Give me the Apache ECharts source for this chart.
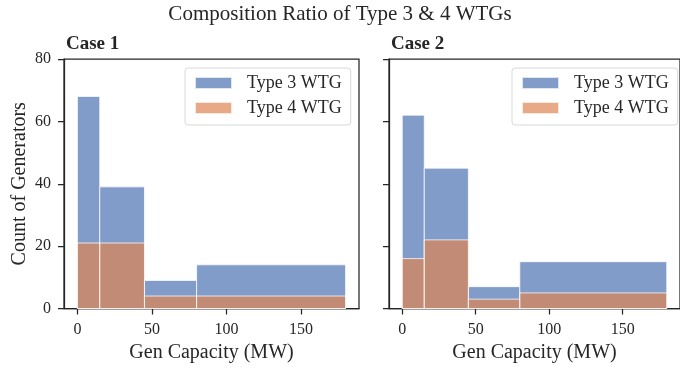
<!DOCTYPE html>
<html>
<head>
<meta charset="utf-8">
<script src="https://cdn.jsdelivr.net/npm/echarts@6/dist/echarts.min.js"></script>
<style>
html,body{margin:0;padding:0;background:#fff;}
#c{width:680px;height:369px;}
</style>
</head>
<body>
<div id="c"></div>
<script>
// ---- data ----
var binEdges = [0, 15, 45, 80, 180];
var case1Type3 = [68, 39, 9, 14];
var case1Type4 = [21, 21, 4, 4];
var case2Type3 = [62, 45, 7, 15];
var case2Type4 = [16, 22, 3, 5];
var xTicks = [0, 50, 100, 150];
var seriesNames = ['Type 3 WTG', 'Type 4 WTG'];
var panelTitles = ['Case 1', 'Case 2'];

var FONT = "'Liberation Serif','Times New Roman',serif";
var INK = '#262626';
var C3 = 'rgba(76,114,176,0.7)';
var C4 = 'rgba(221,132,82,0.7)';

function binData(counts) {
  var out = [];
  for (var i = 0; i < counts.length; i++) out.push([binEdges[i], binEdges[i + 1], counts[i]]);
  return out;
}
function renderBar(params, api) {
  var p0 = api.coord([api.value(0), 0]);
  var p1 = api.coord([api.value(1), api.value(2)]);
  return {
    type: 'rect',
    shape: { x: p0[0], y: p1[1], width: p1[0] - p0[0], height: p0[1] - p1[1] },
    style: { fill: api.visual('color'), stroke: 'rgba(255,255,255,0.75)', lineWidth: 1 }
  };
}
function histSeries(name, counts, idx, color) {
  return {
    type: 'custom', name: name, xAxisIndex: idx, yAxisIndex: idx,
    renderItem: renderBar, data: binData(counts),
    encode: { x: [0, 1], y: 2 },
    itemStyle: { color: color, borderColor: 'rgba(255,255,255,0.75)', borderWidth: 1 },
    silent: true
  };
}
function xAxisCfg(idx) {
  return {
    type: 'value', gridIndex: idx, min: -9, max: 189,
    name: 'Gen Capacity (MW)', nameLocation: 'middle', nameGap: 33,
    nameTextStyle: { fontFamily: FONT, fontSize: 20, color: INK },
    axisLine: { show: true, onZero: false, lineStyle: { color: INK, width: 1.25 } },
    axisTick: { show: true, inside: false, length: 6, customValues: xTicks, lineStyle: { color: INK, width: 1.25 } },
    axisLabel: { fontFamily: FONT, fontSize: 16, color: INK, margin: 13, customValues: xTicks },
    splitLine: { show: false }
  };
}
function yAxisCfg(idx, showLabels) {
  var cfg = {
    type: 'value', gridIndex: idx, min: 0, max: 80, interval: 20,
    axisLine: { show: true, onZero: false, lineStyle: { color: INK, width: 1.25 } },
    axisTick: { show: true, inside: false, length: 6, lineStyle: { color: INK, width: 1.25 } },
    axisLabel: { show: showLabels, fontFamily: FONT, fontSize: 16, color: INK, margin: 13 },
    splitLine: { show: false }
  };
  if (showLabels) {
    cfg.name = 'Count of Generators';
    cfg.nameLocation = 'middle';
    cfg.nameGap = 34;
    cfg.nameTextStyle = { fontFamily: FONT, fontSize: 20, color: INK };
  }
  return cfg;
}
function legendCfg(idx, left) {
  return {
    data: seriesNames, left: left, top: 68, orient: 'vertical',
    itemWidth: 37, itemHeight: 12, itemGap: 7, icon: 'rect',
    padding: [6, 9, 8, 9],
    backgroundColor: '#fff', borderColor: '#d9d9d9', borderWidth: 1, borderRadius: 3,
    textStyle: { fontFamily: FONT, fontSize: 18, color: INK, padding: [0, 0, 0, 10] },
    selectedMode: false
  };
}

var chart = echarts.init(document.getElementById('c'), null, { renderer: 'canvas' });
chart.setOption({
  animation: false,
  backgroundColor: '#fff',
  title: [
    { text: 'Composition Ratio of Type 3 & 4 WTGs', left: 340, top: 4, padding: 0, textAlign: 'center',
      textStyle: { fontFamily: FONT, fontSize: 21, fontWeight: 'normal', color: INK } },
    { text: panelTitles[0], left: 66, top: 35, padding: 0,
      textStyle: { fontFamily: FONT, fontSize: 19, fontWeight: 'bold', color: INK } },
    { text: panelTitles[1], left: 391, top: 35, padding: 0,
      textStyle: { fontFamily: FONT, fontSize: 19, fontWeight: 'bold', color: INK } }
  ],
  grid: [
    { left: 64, top: 59, width: 295, height: 249.5, show: true, borderColor: INK, borderWidth: 1.25, backgroundColor: 'transparent' },
    { left: 389, top: 59, width: 296, height: 249.5, show: true, borderColor: INK, borderWidth: 1.25, backgroundColor: 'transparent' }
  ],
  xAxis: [xAxisCfg(0), xAxisCfg(1)],
  yAxis: [yAxisCfg(0, true), yAxisCfg(1, false)],
  legend: [legendCfg(0, 185), legendCfg(1, 512)],
  series: [
    histSeries(seriesNames[0], case1Type3, 0, C3),
    histSeries(seriesNames[1], case1Type4, 0, C4),
    histSeries(seriesNames[0], case2Type3, 1, C3),
    histSeries(seriesNames[1], case2Type4, 1, C4)
  ]
});
</script>
</body>
</html>
